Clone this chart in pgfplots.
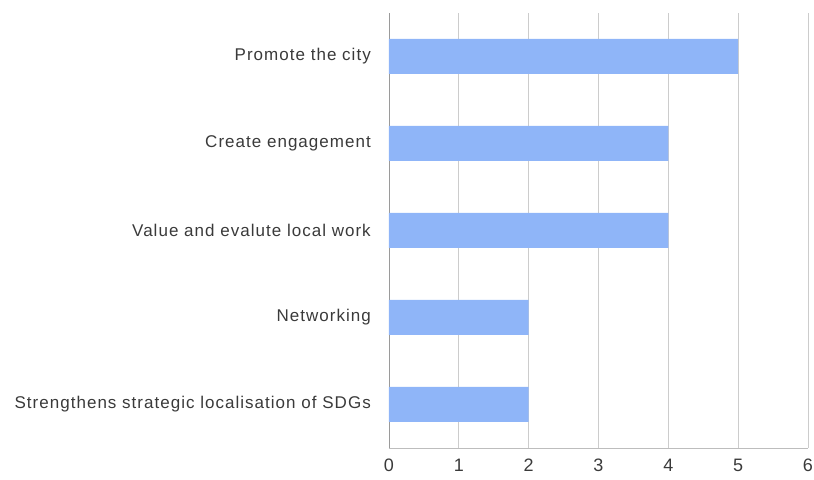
\documentclass[border=0pt]{standalone}
\usepackage{pgfplots}
\pgfplotsset{compat=1.18}
\usepackage{fontspec}
\setmainfont{Liberation Sans}
\newfontfamily\lblfont[LetterSpace=6]{Liberation Sans}
\usetikzlibrary{calc}
\definecolor{barblue}{HTML}{8FB5F8}
\definecolor{gridgray}{HTML}{CCCCCC}
\definecolor{axgray}{HTML}{9A9A9A}
\definecolor{txt}{HTML}{3A3A3A}
\begin{document}
\begin{tikzpicture}
\begin{axis}[
  name=ax,
  scale only axis,
  width=419pt, height=435pt,
  xbar,
  bar width=35pt,
  xmin=0, xmax=6,
  ymin=-0.5, ymax=4.5,
  xtick={0,1,2,3,4,5,6},
  ytick={0,1,2,3,4},
  yticklabels={Strengthens strategic localisation of SDGs, Networking, Value and evalute local work, Create engagement, Promote the city},
  xmajorgrids=true,
  grid style={gridgray, line width=0.8pt},
  axis lines*=left,
  axis line style={axgray, line width=0.8pt},
  separate axis lines,
  x axis line style={-, gridgray!80!gray},
  y axis line style={-, axgray},
  major tick length=0pt,
  tick style={draw=none},
  /pgf/number format/assume math mode=true,
  xticklabel style={font=\fontsize{18}{20}\selectfont, text=txt, inner sep=0pt, anchor=north, yshift=-11pt},
  yticklabel style={font=\lblfont\fontsize{17}{20}\selectfont, text=txt, inner sep=0pt, anchor=east, xshift=-18pt},
  clip=false,
]
\addplot[fill=barblue, draw=none] coordinates {(2,0) (2,1) (4,2) (4,3) (5,4)};
\end{axis}
\path ($(ax.south west)+(-389pt,-32pt)$) rectangle ($(ax.north east)+(6pt,13pt)$);
\end{tikzpicture}
\end{document}
